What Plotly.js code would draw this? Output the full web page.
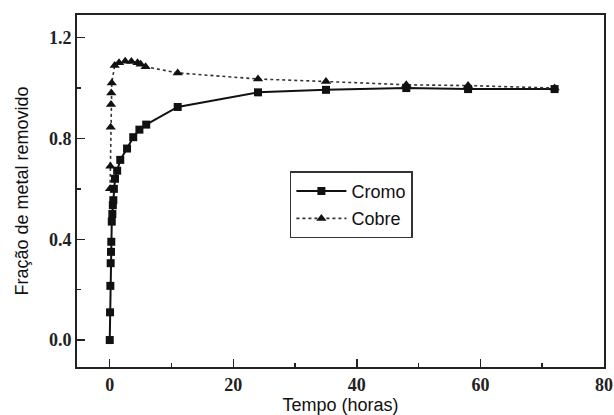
<!DOCTYPE html>
<html>
<head>
<meta charset="utf-8">
<script src="https://cdn.plot.ly/plotly-3.0.1.min.js"></script>
<style>html,body{margin:0;padding:0;background:#fff;}#chart{width:614px;height:415px;}</style>
</head>
<body>
<div id="chart"></div>
<script>
const cromoTime = [0, 0.05, 0.1, 0.15, 0.2, 0.25, 0.33, 0.42, 0.5, 0.58, 0.67, 0.85, 1.2, 1.7, 2.8, 3.8, 4.8, 5.9, 11, 24, 35, 48, 58, 72];
const cromoValue = [0, 0.11, 0.215, 0.305, 0.35, 0.39, 0.47, 0.5, 0.535, 0.555, 0.6, 0.64, 0.672, 0.715, 0.76, 0.805, 0.835, 0.855, 0.925, 0.983, 0.993, 1.0, 0.996, 0.996];
const cobreTime = [0.05, 0.1, 0.15, 0.2, 0.25, 0.33, 0.8, 1.5, 2.5, 3.5, 4.5, 5.0, 5.8, 11, 24, 35, 48, 58, 72];
const cobreValue = [0.6, 0.69, 0.845, 0.935, 0.98, 1.02, 1.09, 1.1, 1.106, 1.105, 1.1, 1.095, 1.085, 1.06, 1.036, 1.026, 1.013, 1.01, 1.0];
const xTicks = [0, 20, 40, 60, 80];
const yTicks = [0.0, 0.4, 0.8, 1.2];

const sans = 'Liberation Sans, Arial, sans-serif';
const serif = 'Liberation Serif, Times New Roman, serif';
const traces = [
  {x: cromoTime, y: cromoValue, name: 'Cromo', legendgroup: 'a', mode: 'lines+markers',
   line: {color: '#111', width: 2}, marker: {symbol: 'square', size: 8, color: '#111'}},
  {x: cobreTime, y: cobreValue, name: 'Cobre', legendgroup: 'b', mode: 'lines+markers',
   line: {color: '#333', width: 1.6, dash: 'dot'}, marker: {symbol: 'triangle-up', size: 9, color: '#111'}}
];
const axisCommon = {showline: true, mirror: true, linecolor: '#222', linewidth: 2, zeroline: false, showgrid: false,
  ticks: 'inside', ticklen: 8, tickwidth: 1.5, tickcolor: '#222'};
const layout = {
  width: 614, height: 415, paper_bgcolor: '#fff', plot_bgcolor: '#fff',
  margin: {l: 77, r: 10, t: 15, b: 48},
  showlegend: true,
  legend: {x: 0.404, y: 0.556, xanchor: 'left', yanchor: 'top', bordercolor: '#333', borderwidth: 1.5,
    bgcolor: '#fff', font: {family: sans, size: 18, color: '#111'}, itemwidth: 50,
    traceorder: 'grouped', tracegroupgap: 1},
  xaxis: Object.assign({}, axisCommon, {range: [-5.3, 80], tickvals: xTicks, ticktext: xTicks.map(String),
    minor: {tickvals: [10, 30, 50, 70], ticks: 'inside', ticklen: 4, tickcolor: '#222', tickwidth: 1.5},
    tickfont: {family: serif, size: 18, color: '#222', weight: 'bold'},
    title: {text: 'Tempo (horas)', font: {family: sans, size: 18, color: '#111'}, standoff: 4}}),
  yaxis: Object.assign({}, axisCommon, {range: [-0.107, 1.29], tickvals: yTicks, ticktext: yTicks.map(v => v.toFixed(1)),
    minor: {tickvals: [0.2, 0.6, 1.0], ticks: 'inside', ticklen: 4, tickcolor: '#222', tickwidth: 1.5},
    tickfont: {family: serif, size: 18, color: '#222', weight: 'bold'},
    title: {text: 'Fração de metal removido', font: {family: sans, size: 18, color: '#111'}, standoff: 16}})
};
Plotly.newPlot('chart', traces, layout, {displayModeBar: false, staticPlot: true});
</script>
</body>
</html>
